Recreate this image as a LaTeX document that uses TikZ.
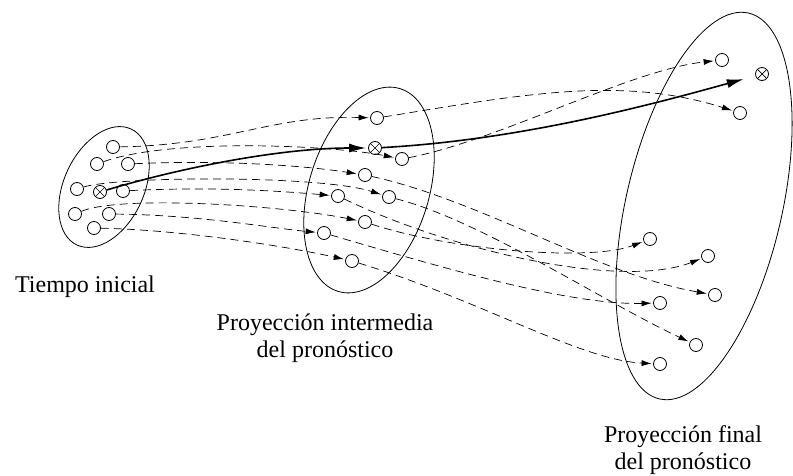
\documentclass[tikz,border=0pt]{standalone}
\usepackage{fontspec}
\setmainfont{Liberation Serif}
\usetikzlibrary{arrows.meta}

\begin{document}
\begin{tikzpicture}[x=1pt,y=-1pt,
    pt/.style={circle,draw,line width=0.8pt,minimum size=13pt,inner sep=0pt},
    ot/.style={pt,path picture={\draw[line width=0.7pt] (path picture bounding box.north west) -- (path picture bounding box.south east) (path picture bounding box.north east) -- (path picture bounding box.south west);}},
    traj/.style={line width=0.7pt,dash pattern=on 8pt off 5pt,-{Latex[length=10pt,width=6pt]},shorten >=1.5pt},
    media/.style={line width=1.6pt,-{Latex[length=17pt,width=9pt]}},
    lbl/.style={align=center,font=\fontsize{24}{27}\selectfont}]
  \useasboundingbox (0,0) rectangle (793,476);
  \draw[line width=0.8pt,rotate around={65:(104,187)}] (104,187) ellipse [x radius=64,y radius=40];
  \draw[line width=0.8pt,rotate around={73:(369,190)}] (369,190) ellipse [x radius=106,y radius=60];
  \draw[line width=0.8pt,rotate around={77:(704,206)}] (704,206) ellipse [x radius=198,y radius=78];
  \node[pt] (t1) at (113,147) {};
  \node[pt] (t2) at (97,164) {};
  \node[pt] (t3) at (128,164) {};
  \node[pt] (t4) at (77,189) {};
  \node[ot] (tx) at (100,192) {};
  \node[pt] (t5) at (123,191) {};
  \node[pt] (t6) at (75,214) {};
  \node[pt] (t7) at (109,214) {};
  \node[pt] (t8) at (94,228) {};
  \node[pt] (p1) at (377,118) {};
  \node[ot] (px) at (375,148) {};
  \node[pt] (p2) at (402,159) {};
  \node[pt] (p3) at (365,175) {};
  \node[pt] (p4) at (338,196) {};
  \node[pt] (p5) at (389,197) {};
  \node[pt] (p6) at (365,222) {};
  \node[pt] (p7) at (324,233) {};
  \node[pt] (p8) at (352,261) {};
  \node[pt] (f1) at (722,60) {};
  \node[ot] (fx) at (762,74) {};
  \node[pt] (f2) at (740,113) {};
  \node[pt] (f3) at (650,239) {};
  \node[pt] (f4) at (708,256) {};
  \node[pt] (f5) at (715,295) {};
  \node[pt] (f6) at (660,303) {};
  \node[pt] (f7) at (696,345) {};
  \node[pt] (f8) at (660,364) {};
  \draw[traj] (t1) .. controls (230,145) and (270,115) .. (p1);
  \draw[traj] (t2) .. controls (170,138) and (330,145) .. (p2);
  \draw[traj] (t3) .. controls (220,160) and (300,165) .. (p3);
  \draw[traj] (t4) .. controls (120,176) and (320,175) .. (p5);
  \draw[traj] (t5) .. controls (220,186) and (290,192) .. (p4);
  \draw[traj] (t6) .. controls (120,195) and (280,205) .. (p6);
  \draw[traj] (t7) .. controls (200,215) and (270,228) .. (p7);
  \draw[traj] (t8) .. controls (180,230) and (280,245) .. (p8);
  \draw[traj] (p1) .. controls (520,95) and (620,75) .. (f2);
  \draw[traj] (p2) .. controls (500,140) and (630,70) .. (f1);
  \draw[traj] (p3) .. controls (480,200) and (600,275) .. (f5);
  \draw[traj] (p4) .. controls (450,250) and (620,290) .. (f4);
  \draw[traj] (p5) .. controls (480,220) and (600,300) .. (f7);
  \draw[traj] (p6) .. controls (450,250) and (590,262) .. (f3);
  \draw[traj] (p7) .. controls (450,270) and (570,305) .. (f6);
  \draw[traj] (p8) .. controls (480,300) and (580,360) .. (f8);
  \draw[media,shorten >=2pt] (tx) .. controls (180,168) and (280,148) .. (px);
  \draw[media,shorten >=12pt] (px) .. controls (520,140) and (650,105) .. (fx);
  \node[lbl] (ti) at (85,287) {Tiempo inicial};
  \node[lbl] (tp) at (325,338) {Proyección intermedia\\del pronóstico};
  \node[lbl] (tf) at (683,450) {Proyección final\\del pronóstico};
\end{tikzpicture}
\end{document}
